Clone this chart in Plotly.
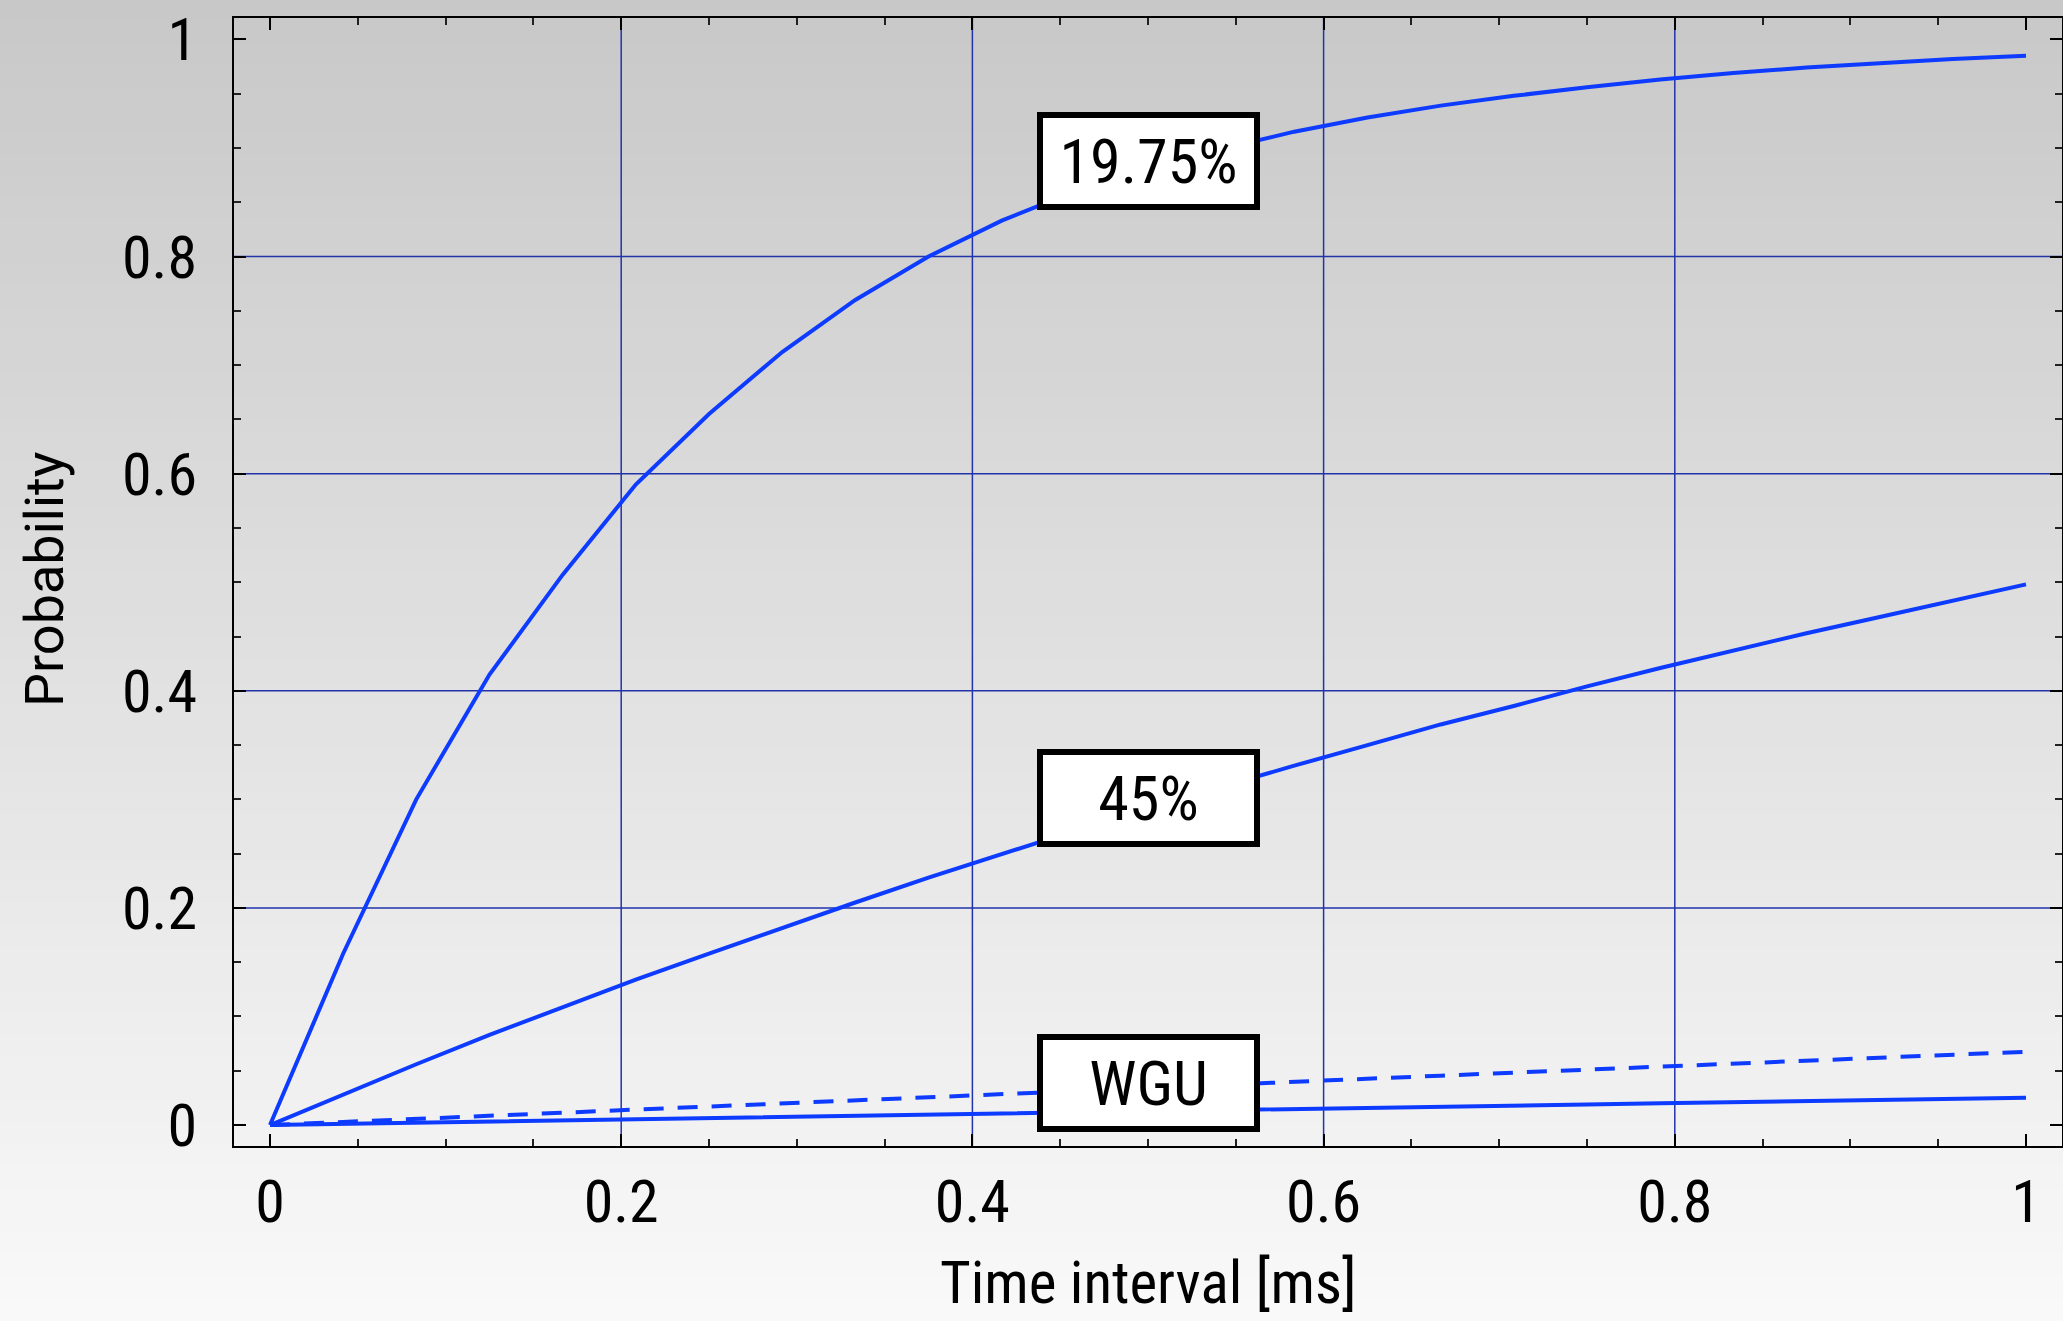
import plotly.graph_objects as go

# ---------------- data ----------------
time_ms = [0.0, 0.0417, 0.0833, 0.125, 0.1667, 0.2083, 0.25, 0.2917, 0.3333,
           0.375, 0.4167, 0.4583, 0.5, 0.5417, 0.5833, 0.625, 0.6667, 0.7083,
           0.75, 0.7917, 0.8333, 0.875, 0.9167, 0.9583, 1.0]

prob_1975 = [0.0, 0.158, 0.300, 0.415, 0.507, 0.590, 0.655, 0.712, 0.760,
             0.800, 0.833, 0.860, 0.882, 0.899, 0.915, 0.928, 0.939, 0.948,
             0.956, 0.963, 0.969, 0.974, 0.978, 0.982, 0.985]

prob_45 = [0.0, 0.028, 0.056, 0.083, 0.109, 0.134, 0.158, 0.182, 0.205,
           0.228, 0.250, 0.271, 0.292, 0.312, 0.331, 0.350, 0.369, 0.386,
           0.404, 0.421, 0.437, 0.453, 0.468, 0.483, 0.498]

prob_wgu_dash = [0.0, 0.0029, 0.0058, 0.0087, 0.0116, 0.0145, 0.0173, 0.0202,
                 0.0230, 0.0259, 0.0287, 0.0315, 0.0344, 0.0372, 0.0400, 0.0428,
                 0.0455, 0.0483, 0.0511, 0.0538, 0.0566, 0.0593, 0.0621, 0.0648,
                 0.0675]

prob_wgu_solid = [0.0, 0.0011, 0.0021, 0.0032, 0.0043, 0.0053, 0.0064, 0.0074,
                  0.0085, 0.0095, 0.0106, 0.0116, 0.0127, 0.0137, 0.0148, 0.0158,
                  0.0169, 0.0179, 0.0190, 0.0200, 0.0211, 0.0221, 0.0231, 0.0242,
                  0.0252]

label_texts = ["19.75%", "45%", "WGU"]
label_x = [0.5, 0.5, 0.5]
label_y = [0.888, 0.301, 0.039]

x_tick_vals = [0, 0.2, 0.4, 0.6, 0.8, 1]
x_tick_text = ["0", "0.2", "0.4", "0.6", "0.8", "1"]
y_tick_vals = [0, 0.2, 0.4, 0.6, 0.8, 1]
y_tick_text = ["0", "0.2", "0.4", "0.6", "0.8", "1"]
grid_vals = [0.2, 0.4, 0.6, 0.8]

# ---------------- styling / layout ----------------
W, H = 2063, 1321
ML, MR, MT, MB = 234, 1, 18, 175
plot_h = H - MT - MB
plot_w = W - ML - MR

LINE_BLUE = "#0d3bff"
GRID_BLUE = "#2233aa"
NARROW = "Liberation Sans Narrow, Arial Narrow, Roboto Condensed, sans-serif"

fig = go.Figure()
line_sets = [
    (prob_1975, "solid"),
    (prob_45, "solid"),
    (prob_wgu_dash, "20px,14px"),
    (prob_wgu_solid, "solid"),
]
for ys, dash in line_sets:
    fig.add_trace(go.Scatter(x=time_ms, y=ys, mode="lines",
                             line=dict(color=LINE_BLUE, width=4, dash=dash),
                             showlegend=False, hoverinfo="skip"))

shapes = []
# vertical gradient background over the whole figure (banded)
n_bands = 60
top_c, bot_c = 200, 249
for i in range(n_bands):
    py0 = H * i / n_bands
    py1 = H * (i + 1) / n_bands
    c = round(top_c + (bot_c - top_c) * (i + 0.5) / n_bands)
    shapes.append(dict(type="rect", xref="paper", yref="paper",
                       x0=-ML / plot_w - 0.01, x1=1 + MR / plot_w + 0.01,
                       y0=(H - MB - py1) / plot_h - 0.0005,
                       y1=(H - MB - py0) / plot_h + 0.0005,
                       fillcolor=f"rgb({c},{c},{c})", line=dict(width=0),
                       layer="below"))
# grid lines (interior only)
for g in grid_vals:
    shapes.append(dict(type="line", xref="x", yref="paper", x0=g, x1=g, y0=0, y1=1,
                       line=dict(color=GRID_BLUE, width=1.5), layer="below"))
    shapes.append(dict(type="line", xref="paper", yref="y", x0=0, x1=1, y0=g, y1=g,
                       line=dict(color=GRID_BLUE, width=1.5), layer="below"))

annotations = []
for t, lx, ly in zip(label_texts, label_x, label_y):
    annotations.append(dict(x=lx, y=ly, xref="x", yref="y", text=t, showarrow=False,
                            font=dict(family=NARROW, size=62, color="black"),
                            bgcolor="white", bordercolor="black", borderwidth=6,
                            borderpad=0, width=211, height=86,
                            xanchor="center", yanchor="middle", align="center"))
# axis titles
annotations.append(dict(x=(44 - ML) / plot_w, y=(H - MB - 580) / plot_h,
                        xref="paper", yref="paper", text="Probability",
                        textangle=-90, showarrow=False,
                        font=dict(family="Roboto, sans-serif", size=54, color="black"),
                        xanchor="center", yanchor="middle"))
annotations.append(dict(x=0.5, y=(H - MB - 1282) / plot_h,
                        xref="paper", yref="paper", text="Time interval [ms]",
                        showarrow=False,
                        font=dict(family=NARROW, size=59, color="black"),
                        xanchor="center", yanchor="middle"))

axis_common = dict(
    showgrid=False, zeroline=False,
    showline=True, linecolor="black", linewidth=2, mirror="ticks",
    ticks="inside", ticklen=12, tickwidth=2, tickcolor="black",
    tickfont=dict(family=NARROW, size=60, color="black"),
    minor=dict(ticks="inside", ticklen=7, tickwidth=1.5, tickcolor="#222222",
               dtick=0.05, showgrid=False),
)

fig.update_layout(
    width=W, height=H,
    margin=dict(l=ML, r=MR, t=MT, b=MB, autoexpand=False),
    paper_bgcolor="rgb(225,225,225)",
    plot_bgcolor="rgba(0,0,0,0)",
    shapes=shapes,
    annotations=annotations,
    xaxis=dict(range=[-0.0205, 1.0205], tickvals=x_tick_vals, ticktext=x_tick_text,
               ticklabelstandoff=2, **axis_common),
    yaxis=dict(range=[-0.0193, 1.0197], tickvals=y_tick_vals, ticktext=y_tick_text,
               ticklabelstandoff=23, **axis_common),
    showlegend=False,
)

fig.write_html("out.html")
